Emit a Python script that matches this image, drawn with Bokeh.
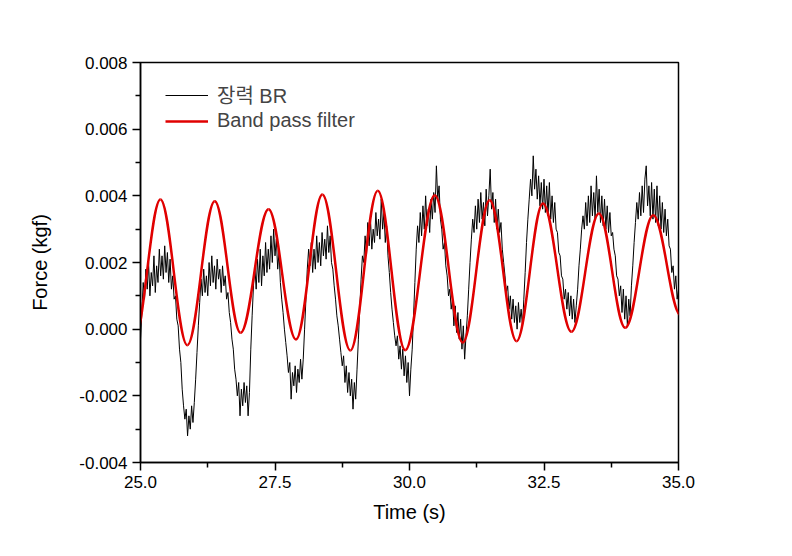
from bokeh.plotting import figure
from bokeh.models import Range1d, FixedTicker, PrintfTickFormatter, Legend, LegendItem, ColumnDataSource
from bokeh.embed import file_html
from bokeh.resources import INLINE

# ---- data (force values in units of 0.001 kgf) ----
# raw signal "장력 BR", sampled every 0.025 s from 25.0 s to 35.0 s
black_t0 = 25.0
black_dt = 0.025
black_v = [
    -0.3, 0.5, 1.4, 0.9, 1.8, 1.2, 2.0, 1.0, 1.7, 1.3, 2.2, 1.1, 1.9, 1.4, 2.4, 1.6, 2.2, 1.5, 2.5, 1.7,
    2.3, 1.4, 2.1, 1.2, 1.6, 0.9, 1.0, 0.3, 0.1, -0.6, -1.0, -1.8, -2.3, -2.7, -2.4, -3.2, -2.6, -3.0, -2.3, -2.8,
    -2.2, -1.5, -0.7, 0.1, 0.8, 1.5, 1.0, 1.8, 1.1, 1.6, 1.0, 2.0, 1.3, 2.2, 1.4, 1.9, 1.2, 2.1, 1.5, 1.8,
    1.1, 1.9, 1.3, 1.6, 0.9, 1.1, 0.5, 0.2, -0.3, -0.6, -1.2, -1.5, -2.0, -1.6, -2.6, -1.8, -2.3, -1.6, -2.2, -1.7,
    -2.6, -1.9, -0.6, 0.4, 1.3, 1.9, 1.2, 2.1, 1.4, 2.4, 1.3, 2.2, 1.6, 2.6, 1.7, 2.4, 1.8, 2.8, 2.0, 3.0,
    2.2, 2.7, 1.8, 2.3, 1.4, 0.9, 0.5, 0.0, -0.4, -0.8, -1.3, -1.0, -2.1, -1.3, -1.7, -1.1, -1.9, -1.2, -1.6, -0.9,
    -1.5, -0.9, 0.0, 0.9, 1.8, 2.4, 1.9, 2.6, 1.7, 2.4, 1.8, 2.8, 2.0, 2.6, 1.9, 2.9, 2.2, 2.7, 2.1, 3.1,
    2.3, 2.8, 2.0, 1.8, 1.3, 0.9, 0.4, 0.1, -0.3, -0.7, -1.1, -0.8, -1.6, -1.1, -1.9, -1.3, -2.0, -1.5, -2.4, -1.6,
    -2.1, -1.2, -0.3, 0.6, 1.5, 2.2, 2.0, 2.8, 2.2, 3.2, 2.5, 3.3, 2.4, 3.0, 2.6, 3.5, 2.8, 3.3, 2.7, 3.9,
    3.0, 3.5, 2.6, 3.1, 2.2, 1.7, 1.1, 0.6, 0.2, -0.2, -0.5, -0.2, -0.9, -0.5, -1.2, -0.6, -1.4, -0.8, -1.6, -1.0,
    -2.0, -1.2, -0.6, 0.4, 1.4, 2.4, 3.1, 2.6, 3.5, 2.8, 3.7, 3.0, 4.0, 3.1, 3.6, 2.9, 3.9, 3.3, 4.1, 3.5,
    4.9, 3.9, 4.3, 3.3, 3.0, 2.4, 2.6, 1.9, 1.6, 1.0, 1.2, 0.6, 0.9, 0.1, 0.7, -0.1, 0.5, -0.3, 0.3, -0.6,
    0.1, -0.9, -0.2, 0.4, 1.2, 2.0, 2.7, 3.3, 2.9, 3.7, 3.0, 3.9, 3.2, 4.1, 3.3, 3.8, 3.1, 4.2, 3.4, 4.0,
    4.8, 3.6, 4.1, 3.2, 3.9, 3.0, 3.6, 2.9, 3.2, 2.4, 2.0, 1.6, 1.1, 1.3, 0.6, 1.0, 0.3, 0.9, 0.2, 0.7,
    0.0, 0.8, 0.2, 0.6, 0.1, 0.9, 1.7, 2.6, 3.3, 3.9, 4.5, 4.0, 5.2, 4.2, 4.8, 3.9, 4.6, 3.7, 4.4, 3.6,
    4.5, 3.5, 4.3, 3.4, 4.4, 3.3, 4.0, 3.2, 3.8, 3.0, 2.9, 2.3, 2.2, 1.6, 1.5, 0.9, 1.2, 0.6, 1.1, 0.4,
    1.0, 0.3, 0.9, 0.2, 0.7, 1.2, 1.9, 2.4, 3.0, 3.4, 3.0, 3.8, 3.1, 4.0, 3.2, 4.3, 3.4, 4.1, 3.3, 4.6,
    3.5, 4.2, 3.2, 4.0, 3.1, 3.9, 3.0, 3.7, 2.9, 3.5, 2.8, 2.9, 2.4, 2.2, 1.6, 1.5, 1.0, 1.3, 0.5, 1.2,
    0.3, 1.0, 0.1, 0.9, 0.4, 1.3, 1.9, 2.6, 3.2, 3.8, 3.3, 4.1, 3.4, 4.3, 3.5, 4.5, 4.9, 3.7, 4.3, 3.4,
    4.4, 3.3, 4.2, 3.2, 4.3, 3.1, 4.0, 3.0, 3.8, 2.9, 3.6, 2.8, 3.3, 2.5, 2.4, 1.7, 1.9, 1.2, 1.6, 0.9,
    1.2,
]
black_t = [black_t0 + i * black_dt for i in range(len(black_v))]

# band pass filter output: successive peaks and troughs (time s, value 0.001 kgf)
red_ext_t = [24.88, 25.37, 25.87, 26.38, 26.86, 27.38, 27.89, 28.38, 28.90, 29.41, 29.92,
             30.47, 30.99, 31.49, 31.99, 32.48, 33.01, 33.52, 34.01, 34.53, 35.04]
red_ext_v = [-0.35, 3.89, -0.48, 3.84, -0.11, 3.60, -0.31, 4.04, -0.64, 4.15, -0.63,
             4.02, -0.40, 3.87, -0.36, 3.77, -0.08, 3.47, 0.04, 3.42, 0.42]

x_ticks = [25.0, 27.5, 30.0, 32.5, 35.0]
x_minor = [26.25, 28.75, 31.25, 33.75]
y_ticks = [-0.004, -0.002, 0.0, 0.002, 0.004, 0.006, 0.008]
y_minor = [-0.003, -0.001, 0.001, 0.003, 0.005, 0.007]

series_names = ["장력 BR", "Band pass filter"]

scale = 1e-3
bv = [v * scale for v in black_v]

# smooth half-cycles between successive extremes (horizontal tangents at extremes)
k = 0.3634
x0, y0, x1, y1, cx0, cy0, cx1, cy1 = [], [], [], [], [], [], [], []
for i in range(len(red_ext_t) - 1):
    ta, tb = red_ext_t[i], red_ext_t[i + 1]
    va, vb = red_ext_v[i] * scale, red_ext_v[i + 1] * scale
    d = tb - ta
    x0.append(ta); y0.append(va); x1.append(tb); y1.append(vb)
    cx0.append(ta + k * d); cy0.append(va)
    cx1.append(tb - k * d); cy1.append(vb)
red_src = ColumnDataSource(dict(x0=x0, y0=y0, x1=x1, y1=y1, cx0=cx0, cy0=cy0, cx1=cx1, cy1=cy1))

W, H = 784, 548
p = figure(width=W, height=H, output_backend="svg", toolbar_location=None,
           x_range=Range1d(25, 35), y_range=Range1d(-0.004, 0.008),
           min_border_left=140, min_border_right=W - 678,
           min_border_top=62, min_border_bottom=H - 462)
p.grid.visible = False
p.background_fill_color = "white"
p.border_fill_color = "white"
p.outline_line_color = "black"
p.outline_line_width = 1.5
p.outline_line_alpha = 1.0

l1 = p.line(black_t, bv, line_color="black", line_width=1)
l2 = p.bezier(x0="x0", y0="y0", x1="x1", y1="y1", cx0="cx0", cy0="cy0", cx1="cx1", cy1="cy1",
              source=red_src, line_color="#e00000", line_width=2.5)

font = "Liberation Sans, Arial, Noto Sans CJK KR"
for ax in (p.xaxis[0], p.yaxis[0]):
    ax.axis_line_color = "black"
    ax.axis_line_width = 1.5
    ax.major_tick_line_color = "black"
    ax.major_tick_line_width = 1.5
    ax.minor_tick_line_color = "black"
    ax.minor_tick_line_width = 1.5
    ax.major_tick_out = 8
    ax.major_tick_in = 0
    ax.minor_tick_out = 5
    ax.minor_tick_in = 0
    ax.major_label_text_font = font
    ax.major_label_text_font_size = "17px"
    ax.major_label_text_color = "black"
    ax.axis_label_text_font = font
    ax.axis_label_text_font_size = "20px"
    ax.axis_label_text_font_style = "normal"
    ax.axis_label_text_color = "black"
    ax.major_label_standoff = 5

p.xaxis.ticker = FixedTicker(ticks=x_ticks, minor_ticks=x_minor)
p.yaxis.ticker = FixedTicker(ticks=y_ticks, minor_ticks=y_minor)
p.xaxis.formatter = PrintfTickFormatter(format="%.1f")
p.yaxis.formatter = PrintfTickFormatter(format="%.3f")
p.xaxis.axis_label = "Time (s)"
p.yaxis.axis_label = "Force (kgf)"
p.xaxis.axis_label_standoff = 10
p.yaxis.axis_label_standoff = 25

legend = Legend(items=[LegendItem(label=series_names[0], renderers=[l1]),
                       LegendItem(label=series_names[1], renderers=[l2])],
                location=(20, 325), margin=0, padding=5, spacing=0,
                glyph_width=43, glyph_height=12, label_height=12,
                label_standoff=9, label_text_font=font, label_text_font_size="20px",
                border_line_alpha=0, background_fill_alpha=0)
p.add_layout(legend)

open("out.html", "w").write(file_html(p, INLINE))
